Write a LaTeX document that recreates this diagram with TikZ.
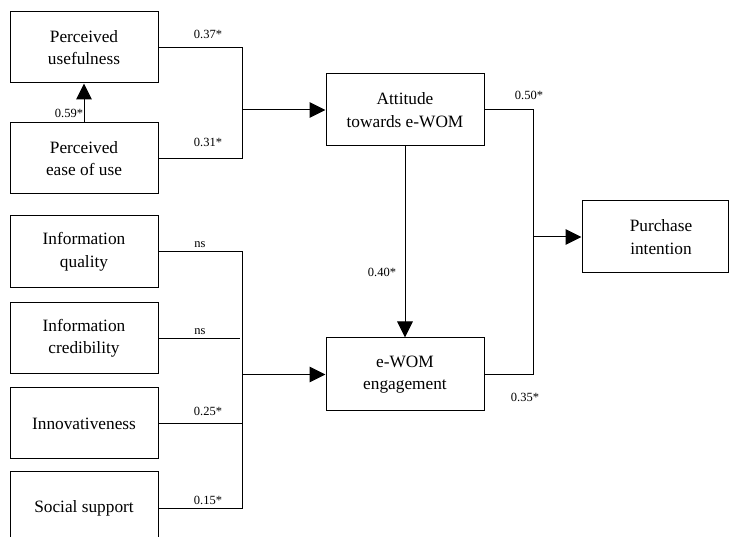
\documentclass[tikz,border=0pt]{standalone}
\usepackage{fontspec}
\setmainfont{Liberation Serif}
\usetikzlibrary{arrows.meta}
\begin{document}
\begin{tikzpicture}[x=1pt,y=-1pt,
  box/.style={draw,line width=1pt,minimum width=148pt,minimum height=71pt,
    align=center,inner sep=0pt,font=\fontsize{17.3}{22.5}\selectfont},
  wbox/.style={box,minimum width=158pt,minimum height=72pt},
  conn/.style={line width=1pt},
  arr/.style={line width=1pt,-{Triangle[length=16pt,width=15.5pt]}},
  lab/.style={inner sep=0pt,font=\fontsize{12.5}{14}\selectfont}]
\useasboundingbox (0,0) rectangle (729,537);
\clip (0,0) rectangle (729,537);
% boxes
\node[box] (pu) at (84,47.5) {Perceived\\usefulness};
\node[box] (peu) at (84,158.5) {Perceived\\ease of use};
\node[box,minimum height=72pt] (iq) at (84,252) {Information\\quality};
\node[box,minimum height=71pt] (ic) at (84,338.5) {Information\\credibility};
\node[box,minimum height=71pt] (inn) at (84,423.5) {Innovativeness};
\node[box,minimum height=72pt] (ss) at (84,508) {Social support};
\node[wbox] (att) at (405,110) {Attitude\\towards e-WOM};
\node[wbox,minimum height=73pt] (ew) at (405,374.5) {e-WOM\\engagement};
\node[box,minimum width=146pt,minimum height=72pt,text width=146pt,align=center] (pi) at (655,237) {\hspace*{12pt}Purchase\\\hspace*{12pt}intention};
% junction coordinates
\coordinate (j1a) at (242,47.5);
\coordinate (j1b) at (242,158.5);
\coordinate (j1) at (242,110);
\coordinate (j2a) at (533,110);
\coordinate (j2b) at (533,374.5);
\coordinate (j2) at (533,237);
\coordinate (j3a) at (242,252);
\coordinate (j3b) at (240,338.5);
\coordinate (j3c) at (242,423.5);
\coordinate (j3d) at (242,508);
\coordinate (j3) at (242,374.5);
% connectors
\draw[arr] (peu.north) -- (pu.south);
\draw[conn] (pu.east) -- (j1a) -- (j1b) -- (peu.east);
\draw[arr] (j1) -- (att.west);
\draw[conn] (att.east) -- (j2a) -- (j2b) -- (ew.east);
\draw[arr] (j2) -- (pi.west);
\draw[arr] (att.south) -- (ew.north);
\draw[conn] (iq.east) -- (j3a) -- (j3d) -- (ss.east);
\draw[conn] (ic.east) -- (j3b);
\draw[conn] (inn.east) -- (j3c);
\draw[arr] (j3) -- (ew.west);
% labels
\node[lab] (l59) at (69,113) {0.59*};
\node[lab] (l37) at (208,34) {0.37*};
\node[lab] (l31) at (208,142) {0.31*};
\node[lab] (l50) at (529,95) {0.50*};
\node[lab] (l40) at (382,272) {0.40*};
\node[lab] (l35) at (525,397) {0.35*};
\node[lab] (lns1) at (200,245) {ns};
\node[lab] (lns2) at (200,332) {ns};
\node[lab] (l25) at (208,411) {0.25*};
\node[lab] (l15) at (208,500) {0.15*};
\end{tikzpicture}
\end{document}
